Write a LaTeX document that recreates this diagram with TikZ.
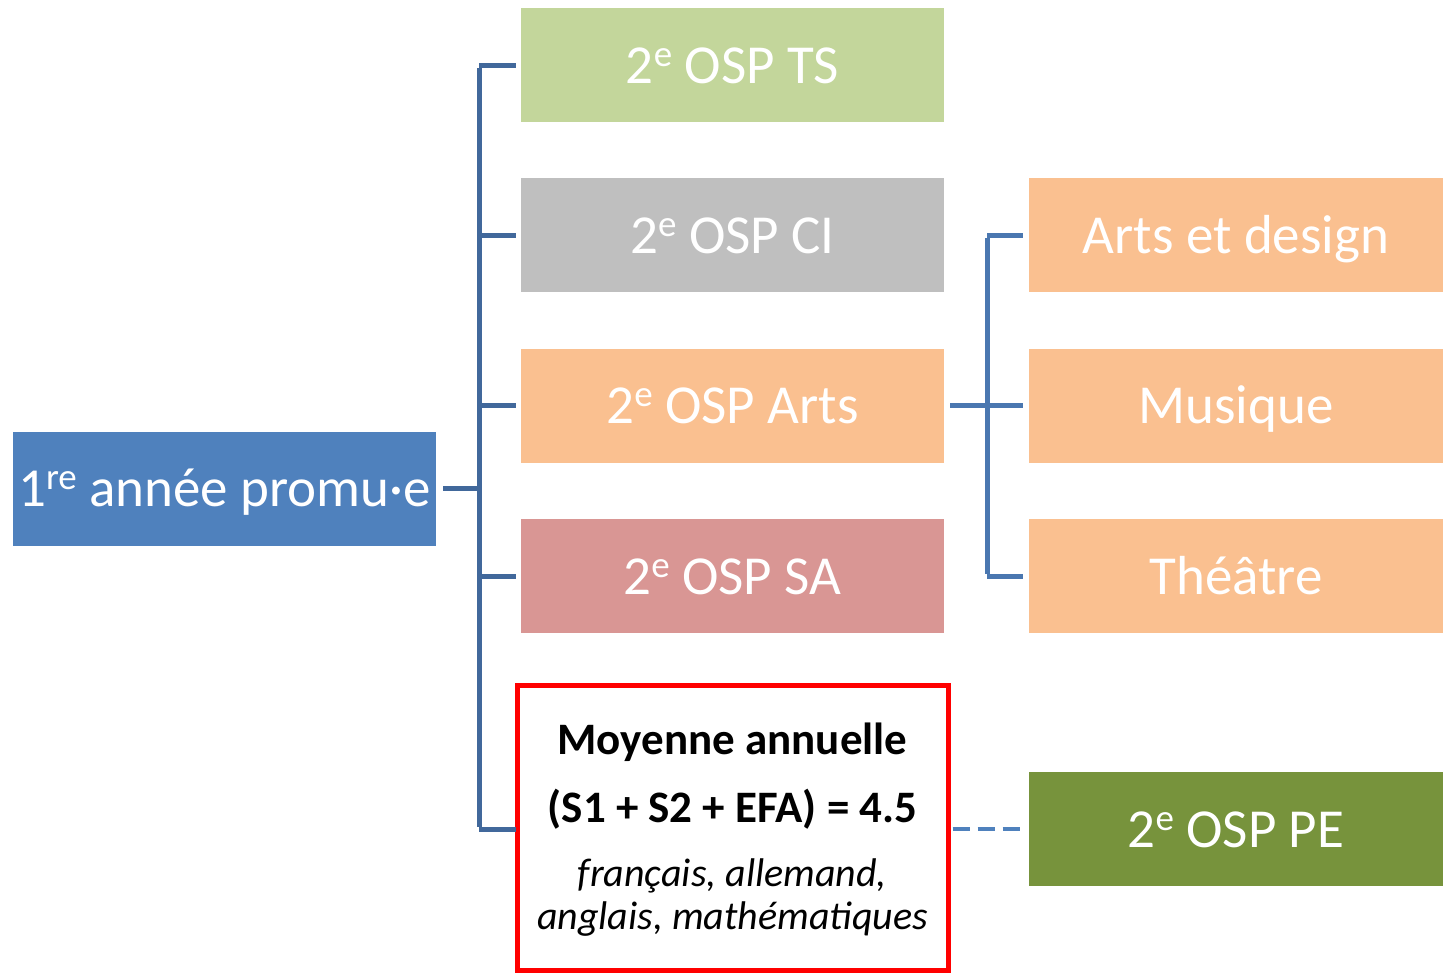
\documentclass[tikz,border=0pt]{standalone}
\usepackage{fontspec}
\setmainfont{Carlito}
\newcommand\mysup[1]{\raisebox{17pt}{\fontsize{37}{37}\selectfont #1}}
\definecolor{rootblue}{HTML}{4F81BD}
\definecolor{connA}{HTML}{41689B}
\definecolor{connB}{HTML}{4A77B0}
\definecolor{tsgreen}{HTML}{C3D69B}
\definecolor{cigrey}{HTML}{BFBFBF}
\definecolor{artsor}{HTML}{FAC090}
\definecolor{sarose}{HTML}{D99694}
\definecolor{pegreen}{HTML}{77933C}
\begin{document}
\begin{tikzpicture}[x=1pt,y=-1pt,
  box/.style={rectangle, inner sep=0pt, outer sep=0pt, minimum width=423pt, minimum height=114pt,
    text=white, font=\fontsize{55}{66}\selectfont, text height=36pt, text depth=0pt},
  rbox/.style={box, minimum width=414pt},
  conn/.style={line width=5pt, color=connA},
  conn2/.style={line width=5pt, color=connB},
  critbox/.style={rectangle, draw=red, line width=5pt, inner sep=0pt, minimum width=431pt, minimum height=285pt},
  txt/.style={anchor=base, inner sep=0pt}
]
\useasboundingbox (0,0) rectangle (1443,972);
% nodes
\node[box, minimum width=423pt, fill=rootblue] (root) at (224.5,488.5) {1\mysup{re} année promu·e};
\node[box, fill=tsgreen] (ts) at (732.5,65) {2\mysup{e} OSP TS};
\node[box, fill=cigrey] (ci) at (732.5,235) {2\mysup{e} OSP CI};
\node[box, fill=artsor] (arts) at (732.5,405.5) {2\mysup{e} OSP Arts};
\node[box, fill=sarose] (sa) at (732.5,576) {2\mysup{e} OSP SA};
\node[rbox, fill=artsor] (ad) at (1236,235) {Arts et design};
\node[rbox, fill=artsor] (mu) at (1236,405.5) {Musique};
\node[rbox, fill=artsor] (th) at (1236,576) {Théâtre};
\node[rbox, fill=pegreen] (pe) at (1236,829) {2\mysup{e} OSP PE};
\node[critbox] (crit) at (732.5,827.5) {};
\node[txt, font=\fontsize{45}{54}\selectfont\bfseries] (l1) at (732.5,754) {Moyenne annuelle};
\node[txt, font=\fontsize{45}{54}\selectfont\bfseries] (l2) at (732.5,822) {(S1 + S2 + EFA) = 4.5};
\node[txt, font=\fontsize{40}{48}\selectfont\itshape] (l3) at (732.5,886) {français, allemand,};
\node[txt, font=\fontsize{40}{48}\selectfont\itshape] (l4) at (732.5,929) {anglais, mathématiques};
% connectors
\coordinate (t) at (479,0);
\coordinate (t2) at (987,0);
\draw[conn, shorten <=7pt] (root.east) -- (t |- root.east);
\draw[conn] ([yshift=-2.5pt]t |- ts.west) -- ([yshift=2.5pt]t |- pe.west);
\foreach \n in {ts,ci,arts,sa}{
  \draw[conn, shorten >=5pt] (t |- \n.west) -- (\n.west);
}
\draw[conn] (t |- pe.west) -- (516,829);
\draw[conn2, shorten <=6pt, shorten >=6pt] (arts.east) -- (mu.west);
\draw[conn2] ([yshift=-2.5pt]t2 |- ad.west) -- ([yshift=2.5pt]t2 |- th.west);
\foreach \n in {ad,th}{
  \draw[conn2, shorten >=6pt] (t2 |- \n.west) -- (\n.west);
}
\draw[line width=4.5pt, color=rootblue, dash pattern=on 17pt off 8pt, shorten <=2pt, shorten >=6pt] (crit.east |- pe.west) -- (pe.west);
\end{tikzpicture}
\end{document}
